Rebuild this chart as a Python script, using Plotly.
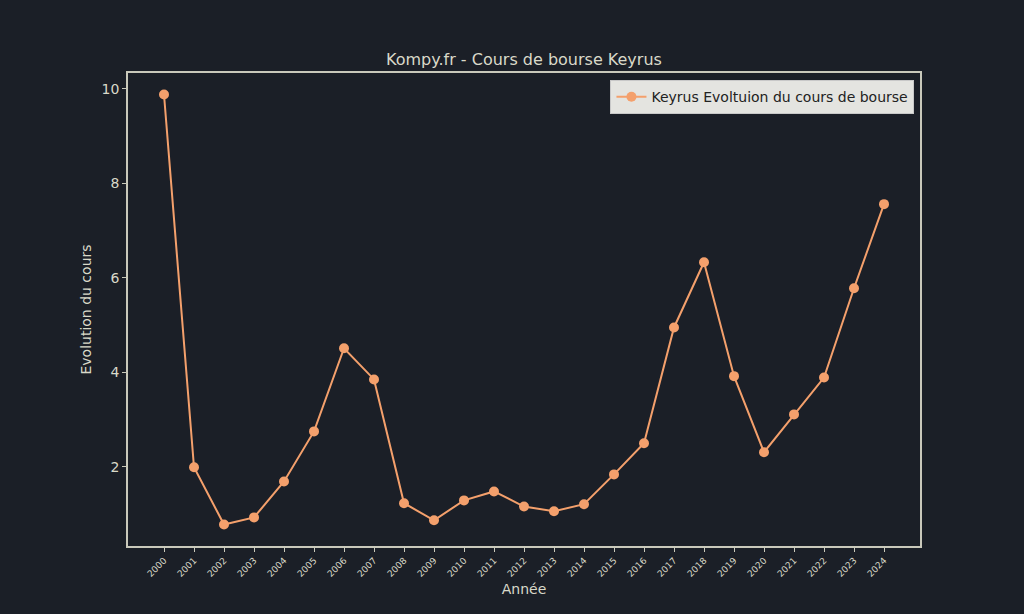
import plotly.graph_objects as go

years = [str(y) for y in range(2000, 2025)]
cours = [9.88, 1.99, 0.78, 0.93, 1.69, 2.75, 4.51, 3.85, 1.23, 0.87, 1.29, 1.48,
         1.16, 1.06, 1.21, 1.84, 2.50, 4.95, 6.33, 3.92, 2.31, 3.11, 3.89, 5.78, 7.56]

BG = "#1b1f27"
TEXT = "#d9d9c9"
SPINE = "#c9c9bb"
ORANGE = "#f4a06c"

fig = go.Figure(
    go.Scatter(
        x=years,
        y=cours,
        mode="lines+markers",
        name="Keyrus Evoltuion du cours de bourse",
        line=dict(color=ORANGE, width=2),
        marker=dict(color=ORANGE, size=10),
    )
)

fig.update_layout(
    width=1024,
    height=614,
    paper_bgcolor=BG,
    plot_bgcolor=BG,
    margin=dict(l=128, r=104, t=73, b=68),
    font=dict(family="DejaVu Sans", color=TEXT, size=14),
    title=dict(
        text="Kompy.fr - Cours de bourse Keyrus",
        x=0.5117, xanchor="center", y=0.904, yanchor="middle",
        font=dict(size=16, color=TEXT),
    ),
    showlegend=True,
    legend=dict(
        x=0.993, y=0.985, xanchor="right", yanchor="top",
        bgcolor="#e4e4e0", bordercolor="#c8c8c8", borderwidth=1,
        font=dict(color="#222222", size=14),
        itemwidth=30,
    ),
)

fig.update_xaxes(
    type="category",
    range=[-1.2, 25.2],
    tickangle=-45,
    tickfont=dict(size=9, color=TEXT),
    ticks="outside", ticklen=4, tickcolor=SPINE,
    showline=True, linecolor=SPINE, linewidth=1.5, mirror=True,
    showgrid=False, zeroline=False,
    title=dict(text="Année", font=dict(size=14, color=TEXT), standoff=6),
)
fig.update_yaxes(
    range=[0.325, 10.335],
    tickvals=[2, 4, 6, 8, 10],
    tickfont=dict(size=14, color=TEXT),
    ticks="outside", ticklen=4, tickcolor=SPINE,
    showline=True, linecolor=SPINE, linewidth=1.5, mirror=True,
    showgrid=False, zeroline=False,
    title=dict(text="Evolution du cours", font=dict(size=14, color=TEXT), standoff=7),
)

# drop the default page margin so the figure fills the window
fig.write_html("out.html", config={"displayModeBar": False},
               post_script="document.body.style.margin='0';")
